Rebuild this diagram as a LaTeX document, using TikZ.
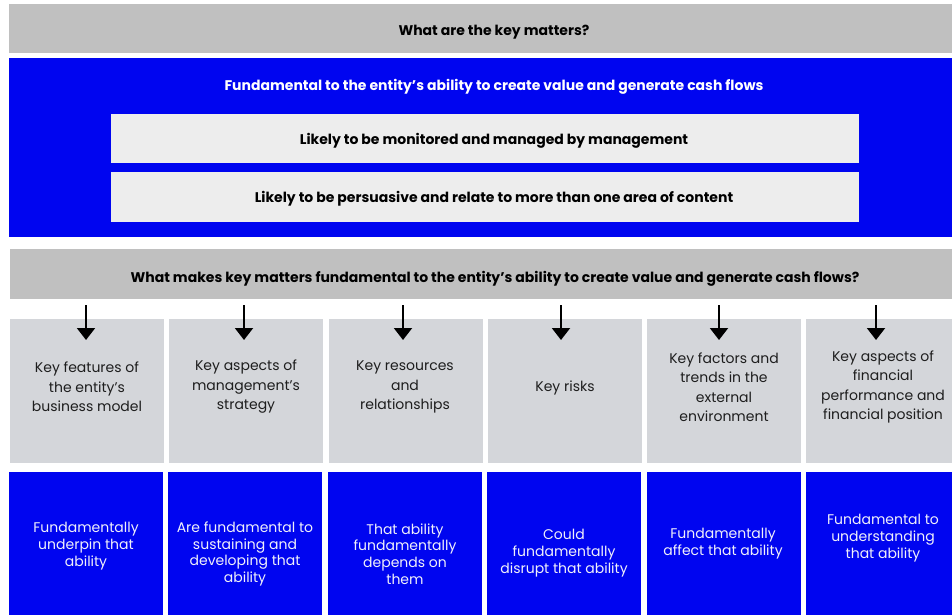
\documentclass[tikz,border=0pt]{standalone}
\usepackage{fontspec}
\setmainfont{Poppins}
\usetikzlibrary{arrows.meta}
\definecolor{kmblue}{RGB}{0,5,240}
\definecolor{kmgray}{RGB}{192,192,192}
\definecolor{kminner}{RGB}{237,237,237}
\definecolor{kmcol}{RGB}{212,214,218}
\definecolor{kmtext}{RGB}{30,30,30}
\definecolor{kmwhite}{RGB}{240,240,250}
\tikzset{
  panel/.style={anchor=north west, inner sep=0pt, outer sep=0pt},
  hdr/.style={font=\fontsize{14}{16}\selectfont\bfseries, text=black},
  whdr/.style={font=\fontsize{14}{16}\selectfont\bfseries, text=white},
  coltext/.style={font=\fontsize{14}{19.5}\selectfont, text=kmtext, align=center},
  bluetext/.style={font=\fontsize{14}{16.8}\selectfont, text=kmwhite, align=center},
  downarrow/.style={line width=2pt, -{Triangle[width=18pt,length=12pt]}, black}
}
\begin{document}
\begin{tikzpicture}[x=1pt,y=-1pt]
\useasboundingbox (0,0) rectangle (952,615);
\fill[white] (0,0) rectangle (952,615);
% top header
\node[panel, fill=kmgray, minimum width=943pt, minimum height=49pt] (top) at (9,4) {};
\node[hdr] (toptext) at (494,32) {What are the key matters?};
% blue block
\node[panel, fill=kmblue, minimum width=943pt, minimum height=179pt] (blue) at (9,58) {};
\node[whdr] (bluetext) at (494,87) {Fundamental to the entity’s ability to create value and generate cash flows};
\node[panel, fill=kminner, minimum width=748pt, minimum height=49pt] (in1) at (111,114) {};
\node[hdr] (in1text) at (494,141) {Likely to be monitored and managed by management};
\node[panel, fill=kminner, minimum width=748pt, minimum height=50pt] (in2) at (111,172) {};
\node[hdr] (in2text) at (494,199) {Likely to be persuasive and relate to more than one area of content};
% second header
\node[panel, fill=kmgray, minimum width=942pt, minimum height=50pt] (mid) at (10,249) {};
\node[hdr] (midtext) at (495,279) {What makes key matters fundamental to the entity’s ability to create value and generate cash flows?};
% columns
\foreach \i/\x/\w in {1/10/154,2/169/154,3/329/154,4/488/154,5/647/154,6/806/146}{
  \node[panel, fill=kmcol, minimum width=\w pt, minimum height=144pt] (c\i) at (\x,319) {};
}
\foreach \i/\x/\w in {1/9/154,2/168/154,3/328/154,4/487/154,5/647/154,6/806/146}{
  \node[panel, fill=kmblue, minimum width=\w pt, minimum height=143pt] (b\i) at (\x,472) {};
}
% column texts
\node[coltext] (t1) at (87,387) {Key features of\\the entity’s\\business model};
\node[coltext] (t2) at (246,387) {Key aspects of\\management’s\\strategy};
\node[coltext] (t3) at (405,387) {Key resources\\and\\relationships};
\node[coltext] (t4) at (565,388) {Key risks};
\node[coltext] (t5) at (724,387) {Key factors and\\trends in the\\external\\environment};
\node[coltext] (t6) at (883,387) {Key aspects of\\financial\\performance and\\financial position};
% blue texts
\node[bluetext] (u1) at (86,546) {Fundamentally\\underpin that\\ability};
\node[bluetext] (u2) at (245,554) {Are fundamental to\\sustaining and\\developing that\\ability};
\node[bluetext] (u3) at (405,554) {That ability\\fundamentally\\depends on\\them};
\node[bluetext] (u4) at (564,553) {Could\\fundamentally\\disrupt that ability};
\node[bluetext] (u5) at (723,544) {Fundamentally\\affect that ability};
\node[bluetext] (u6) at (883,538) {Fundamental to\\understanding\\that ability};
% arrows
\foreach \i/\x in {1/86,2/244,3/403,4/561,5/719,6/876}{
  \coordinate (as\i) at (\x,305);
  \coordinate (ae\i) at (\x,340);
  \draw[downarrow] (as\i) -- (ae\i);
}
\end{tikzpicture}
\end{document}
